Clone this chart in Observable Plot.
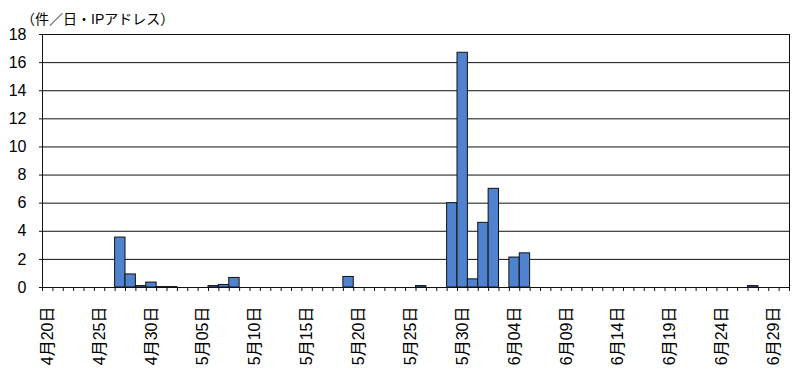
<!DOCTYPE html>
<html>
<head>
<meta charset="utf-8">
<script src="https://cdn.jsdelivr.net/npm/d3@7"></script>
<script src="https://cdn.jsdelivr.net/npm/@observablehq/plot@0.6"></script>
<style>
  html, body { margin: 0; padding: 0; background: #fff; }
  #wrap { position: relative; width: 800px; height: 376px; }
  #title { position: absolute; left: 21px; top: 8px; font-family: "Liberation Sans", Arial, "Noto Sans CJK JP", sans-serif; font-size: 14px; color: #000; white-space: nowrap; }
</style>
</head>
<body>
<div id="wrap"><div id="title">（件／日・IPアドレス）</div></div>
<script>
// Period shown (one band per day, end exclusive)
const periodStart = "2009-04-20";
const periodEnd = "2009-07-01";

// Days with non-zero values
const barDates = ["2009-04-27","2009-04-28","2009-04-29","2009-04-30","2009-05-01","2009-05-02",
  "2009-05-06","2009-05-07","2009-05-08","2009-05-19","2009-05-26","2009-05-29","2009-05-30",
  "2009-05-31","2009-06-01","2009-06-02","2009-06-04","2009-06-05","2009-06-27"];
const barValues = [3.55, 0.93, 0.1, 0.35, 0.03, 0.03,
  0.1, 0.18, 0.68, 0.75, 0.1, 6.0, 16.7,
  0.58, 4.6, 7.02, 2.13, 2.43, 0.1];

// Tick labels
const tickDates = ["2009-04-20","2009-04-25","2009-04-30","2009-05-05","2009-05-10","2009-05-15",
  "2009-05-20","2009-05-25","2009-05-30","2009-06-04","2009-06-09","2009-06-14","2009-06-19",
  "2009-06-24","2009-06-29"];
const tickLabels = ["4月20日","4月25日","4月30日","5月05日","5月10日","5月15日","5月20日",
  "5月25日","5月30日","6月04日","6月09日","6月14日","6月19日","6月24日","6月29日"];
const yTicks = [0, 2, 4, 6, 8, 10, 12, 14, 16, 18];

const parse = d3.utcParse("%Y-%m-%d");
const start = parse(periodStart), end = parse(periodEnd);
const bars = barDates.map((d, i) => {
  const x1 = parse(d);
  return {x1, x2: d3.utcDay.offset(x1, 1), value: barValues[i]};
});
const labelPos = tickDates.map(d => d3.utcHour.offset(parse(d), 12));
const labelMap = new Map(labelPos.map((d, i) => [+d, tickLabels[i]]));
const dayBounds = d3.utcDay.range(start, d3.utcDay.offset(end, 1));

const chart = Plot.plot({
  width: 800,
  height: 376,
  marginLeft: 42,
  marginRight: 11,
  marginTop: 34,
  marginBottom: 89,
  style: {fontFamily: '"Liberation Sans", Arial, "Noto Sans CJK JP", sans-serif', color: "#000", background: "#fff"},
  x: {type: "utc", domain: [start, end]},
  y: {domain: [0, 18]},
  marks: [
    Plot.gridY(yTicks.filter(v => v > 0 && v < 18), {stroke: "#111", strokeOpacity: 1, strokeWidth: 1}),
    Plot.rectY(bars, {x1: "x1", x2: "x2", y: "value", fill: "#4f82cf", stroke: "#111", strokeWidth: 1, inset: 0}),
    Plot.frame({stroke: "#111", strokeWidth: 1}),
    Plot.axisY(yTicks, {tickSize: 3, tickPadding: 13, fontSize: 16, stroke: "#111", label: null}),
    Plot.axisX(dayBounds, {tickSize: 4, tickFormat: () => "", stroke: "#111", label: null}),
    Plot.axisX(labelPos, {tickSize: 0, tickPadding: 19, tickRotate: -90, fontSize: 16,
      tickFormat: d => labelMap.get(+d), label: null})
  ]
});
document.getElementById("wrap").appendChild(chart);
</script>
</body>
</html>
